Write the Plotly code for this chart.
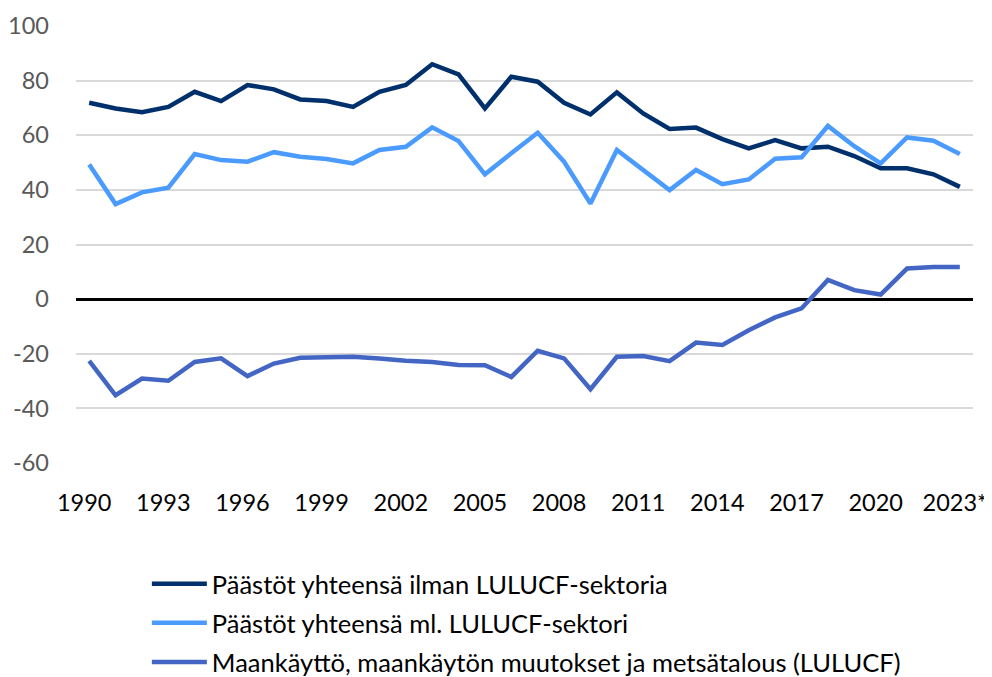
import plotly.graph_objects as go

years = list(range(1990, 2024))

total_excl = [71.9, 69.8, 68.4, 70.4, 75.9, 72.5, 78.4, 76.8, 73.1, 72.5,
              70.4, 75.9, 78.4, 86.0, 82.3, 69.8, 81.4, 79.6, 71.9, 67.6,
              75.7, 68.0, 62.3, 62.8, 58.6, 55.2, 58.2, 55.2, 55.8, 52.4,
              47.9, 47.9, 45.7, 41.1]

total_incl = [49.3, 34.8, 39.1, 40.8, 53.1, 50.9, 50.3, 53.8, 52.1, 51.3,
              49.7, 54.6, 55.8, 62.9, 57.9, 45.7, 53.4, 60.9, 50.3, 35.0,
              54.6, 47.5, 39.9, 47.3, 42.1, 43.8, 51.4, 51.9, 63.4, 56.0,
              49.7, 59.2, 58.0, 53.1]

lulucf = [-22.6, -35.2, -29.1, -29.9, -23.0, -21.7, -28.2, -23.6, -21.5, -21.5,
          -21.1, -21.7, -22.6, -23.0, -24.1, -24.2, -28.5, -18.9, -21.7, -33.0,
          -21.1, -20.8, -22.7, -15.9, -16.8, -11.4, -6.7, -3.4, 7.0, 3.3,
          1.7, 11.2, 11.8, 11.8]

names = ["Päästöt yhteensä ilman LULUCF-sektoria",
         "Päästöt yhteensä ml. LULUCF-sektori",
         "Maankäyttö, maankäytön muutokset ja metsätalous (LULUCF)"]
colors = ["#00306C", "#4B9BFF", "#4366C4"]

tick_years = list(range(1990, 2024, 3))
tick_labels = [str(y) for y in tick_years[:-1]] + ["2023*"]
y_ticks = [-60, -40, -20, 0, 20, 40, 60, 80, 100]
y_labels = ["-60", "-40", "-20", "0", "20", "40", "60", "80", "100"]

fig = go.Figure()
for i, (vals, name, col) in enumerate(zip([total_excl, total_incl, lulucf], names, colors)):
    fig.add_trace(go.Scatter(x=years, y=vals, name=name, mode="lines",
                             legendgroup=f"g{i}",
                             line=dict(color=col, width=4.5)))

font_family = "Lato, sans-serif"
fig.update_layout(
    width=984, height=669,
    margin=dict(l=68, r=19, t=18, b=214, autoexpand=False),
    paper_bgcolor="white", plot_bgcolor="white",
    font=dict(family=font_family, size=25, color="#000000"),
    showlegend=True,
    legend=dict(x=0.079, y=0.174, xref="paper", yref="container",
                xanchor="left", yanchor="top",
                font=dict(size=25.5, color="#000000"),
                traceorder="grouped", tracegroupgap=3,
                bgcolor="rgba(0,0,0,0)", itemwidth=55),
    xaxis=dict(range=[1989.5, 2023.5], tickvals=tick_years, ticktext=tick_labels,
               showgrid=False, zeroline=False, showline=False, ticks="",
               automargin=False, ticklabelstandoff=23, ticklabelshift=-5,
               ticklabeloverflow="allow",
               tickfont=dict(size=23.5, color="#000000")),
    yaxis=dict(range=[-60, 100], tickvals=y_ticks, ticktext=y_labels, showgrid=True,
               gridcolor="#D9D9D9", gridwidth=1.5,
               zeroline=True, zerolinecolor="#000000", zerolinewidth=3,
               showline=False, ticks="", ticklabelstandoff=26, automargin=False,
               ticklabeloverflow="allow",
               tickfont=dict(size=23.5, color="#595959")),
)

fig.write_html("out.html")
